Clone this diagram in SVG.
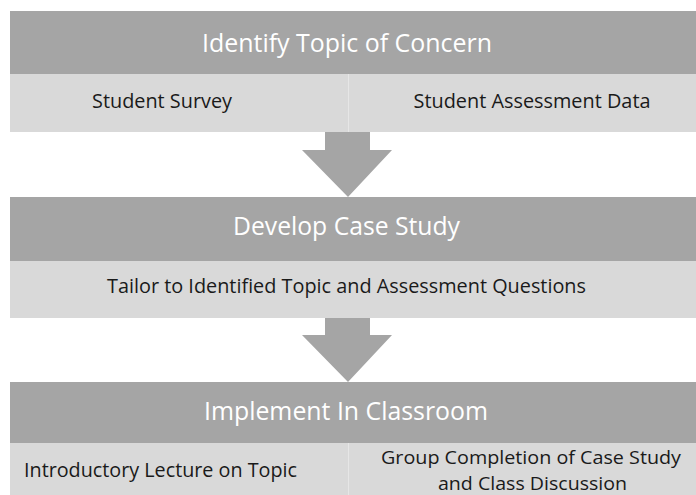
<svg xmlns="http://www.w3.org/2000/svg" width="696" height="495" viewBox="0 0 696 495">
<style>
.hd{fill:#a5a5a5}
.lt{fill:#d9d9d9}
.ht{font-family:"Open Sans","Noto Sans",sans-serif;font-size:26px;fill:#ffffff;text-anchor:middle}
.bt{font-family:"Open Sans","Noto Sans",sans-serif;font-size:20.5px;fill:#1a1a1a;text-anchor:middle}
.sm{font-size:19px}
.dv{stroke:#e6e6e6;stroke-width:1}
.ar{fill:#a5a5a5}
</style>
<rect width="696" height="495" fill="#ffffff"/>
<g id="identify">
<rect class="hd" x="10" y="11" width="686" height="63"/>
<text class="ht" x="347" y="52" textLength="290" lengthAdjust="spacingAndGlyphs">Identify Topic of Concern</text>
<rect class="lt" x="10" y="74" width="686" height="58"/>
<line class="dv" x1="348.5" y1="74" x2="348.5" y2="132"/>
<text class="bt" x="162" y="108" textLength="140" lengthAdjust="spacingAndGlyphs">Student Survey</text>
<text class="bt" x="532" y="108" textLength="237" lengthAdjust="spacingAndGlyphs">Student Assessment Data</text>
</g>
<g id="develop">
<rect class="hd" x="10" y="197" width="686" height="64"/>
<text class="ht" x="346.5" y="235" textLength="227" lengthAdjust="spacingAndGlyphs">Develop Case Study</text>
<rect class="lt" x="10" y="261" width="686" height="57"/>
<text class="bt" x="346.5" y="293" textLength="479" lengthAdjust="spacingAndGlyphs">Tailor to Identified Topic and Assessment Questions</text>
</g>
<g id="implement">
<rect class="hd" x="10" y="382" width="686" height="61"/>
<text class="ht" x="346" y="420" textLength="284" lengthAdjust="spacingAndGlyphs">Implement In Classroom</text>
<rect class="lt" x="10" y="443" width="686" height="52"/>
<line class="dv" x1="348.5" y1="443" x2="348.5" y2="495"/>
<text class="bt" x="160.5" y="477" textLength="273" lengthAdjust="spacingAndGlyphs">Introductory Lecture on Topic</text>
<text class="bt sm" x="531" y="464" textLength="300" lengthAdjust="spacingAndGlyphs">Group Completion of Case Study</text>
<text class="bt sm" x="532.5" y="490" textLength="189" lengthAdjust="spacingAndGlyphs">and Class Discussion</text>
</g>
<g id="connectors">
<polygon class="ar" points="325,132 370,132 370,150 392,150 348,197 302,150 325,150"/>
<polygon class="ar" points="325,318 370,318 370,335 392,335 348,382 302,335 325,335"/>
</g>
</svg>
